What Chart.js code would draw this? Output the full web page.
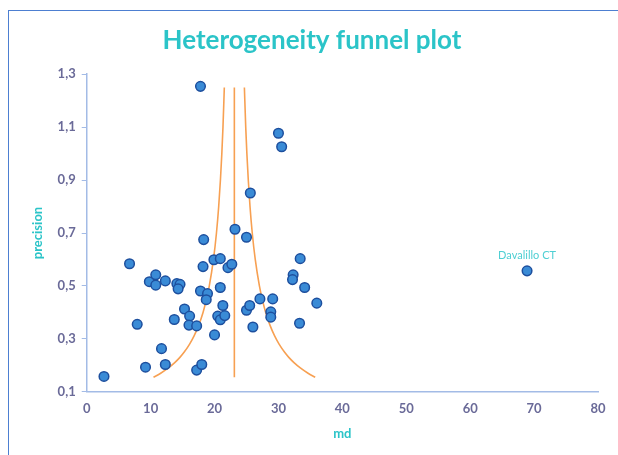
<!DOCTYPE html>
<html>
<head>
<meta charset="utf-8">
<script src="https://cdn.jsdelivr.net/npm/chart.js@4.4.1/dist/chart.umd.min.js"></script>
<style>
  html, body { margin: 0; padding: 0; background: #fff; overflow: hidden; }
  #wrap { position: relative; width: 618px; height: 455px; }
  #frame { position: absolute; left: 8px; top: 10px; width: 700px; height: 600px; border: 1.5px solid #4d7fd1; box-sizing: border-box; }
  canvas { position: absolute; left: 0; top: 0; }
</style>
</head>
<body>
<div id="wrap">
  <div id="frame"></div>
  <canvas id="c" width="618" height="455"></canvas>
</div>
<script>
// Study effect sizes (md) and precision values
const studyMd = [2.7, 6.7, 9.2, 7.9, 9.8, 10.8, 10.8, 12.3, 11.7, 12.3, 14.1, 14.6, 14.3, 13.7, 15.3, 16.1, 16.0, 17.2, 17.2, 18.0,
  18.3, 18.2, 17.8, 18.9, 18.7, 19.9, 20.9, 20.9, 21.3, 20.5, 20.9, 21.6, 20.0, 22.1, 22.7, 23.2, 25.0, 25.0, 25.5, 26.0,
  27.1, 29.1, 28.8, 28.8, 32.3, 32.2, 33.4, 34.1, 36.0, 33.3, 17.8, 30.0, 30.5, 25.6, 68.9];
const studyPrecision = [0.158, 0.584, 0.193, 0.355, 0.516, 0.542, 0.503, 0.519, 0.263, 0.203, 0.509, 0.506, 0.489, 0.373, 0.413, 0.386, 0.352, 0.349, 0.182, 0.203,
  0.675, 0.573, 0.481, 0.471, 0.448, 0.599, 0.603, 0.494, 0.426, 0.386, 0.372, 0.388, 0.315, 0.569, 0.582, 0.714, 0.684, 0.408, 0.426, 0.345,
  0.451, 0.451, 0.402, 0.382, 0.542, 0.524, 0.603, 0.494, 0.435, 0.359, 1.254, 1.077, 1.026, 0.851, 0.557];
const labelledStudy = "Davalillo CT";
const labelledIndex = 54;

// Funnel limits
const funnelPrecision = [0.155, 0.17, 0.19, 0.21, 0.23, 0.25, 0.28, 0.31, 0.35, 0.40, 0.45, 0.50, 0.60, 0.70, 0.80, 0.90, 1.00, 1.10, 1.25];
const funnelLower = [10.45, 11.57, 12.78, 13.77, 14.58, 15.26, 16.10, 16.78, 17.50, 18.20, 18.74, 19.18, 19.83, 20.30, 20.65, 20.92, 21.14, 21.32, 21.53];
const funnelUpper = [35.75, 34.63, 33.42, 32.43, 31.62, 30.94, 30.10, 29.42, 28.70, 28.00, 27.46, 27.02, 26.37, 25.90, 25.55, 25.28, 25.06, 24.88, 24.67];
const pooledMd = 23.1;
const pooledPrecision = [0.155, 1.25];

const xTicks = [0, 10, 20, 30, 40, 50, 60, 70, 80];
const yTicks = ["0,1", "0,3", "0,5", "0,7", "0,9", "1,1", "1,3"];

const pts = studyMd.map((x, i) => ({ x: x, y: studyPrecision[i] }));
const lower = funnelPrecision.map((p, i) => ({ x: funnelLower[i], y: p }));
const upper = funnelPrecision.map((p, i) => ({ x: funnelUpper[i], y: p }));
const center = pooledPrecision.map(p => ({ x: pooledMd, y: p }));

const teal = '#2bc4c8';
const tickColor = '#6a6a98';
const axisColor = '#a3bbe6';
const orange = '#f7a052';
const FONT = 'Lato, "Open Sans", sans-serif';

const labelPlugin = {
  id: 'studyLabel',
  afterDatasetsDraw(chart) {
    const xs = chart.scales.x, ys = chart.scales.y;
    const ctx = chart.ctx;
    const px = xs.getPixelForValue(studyMd[labelledIndex]);
    const py = ys.getPixelForValue(studyPrecision[labelledIndex]);
    ctx.save();
    ctx.font = '11px ' + FONT;
    ctx.fillStyle = '#4fcfd3';
    ctx.textAlign = 'center';
    ctx.textBaseline = 'bottom';
    ctx.fillText(labelledStudy, px, py - 10);
    ctx.restore();
  }
};

new Chart(document.getElementById('c'), {
  type: 'scatter',
  data: {
    datasets: [
      { data: pts, backgroundColor: '#3a8bd6', borderColor: '#1d4f9e', borderWidth: 1.5, pointRadius: 4.8, showLine: false },
      { data: center, showLine: true, borderColor: orange, borderWidth: 1.6, pointRadius: 0, fill: false },
      { data: lower, showLine: true, borderColor: orange, borderWidth: 1.6, pointRadius: 0, cubicInterpolationMode: 'monotone', fill: false },
      { data: upper, showLine: true, borderColor: orange, borderWidth: 1.6, pointRadius: 0, cubicInterpolationMode: 'monotone', fill: false }
    ]
  },
  options: {
    responsive: false,
    animation: false,
    layout: { padding: { left: 26, right: 20, top: 6, bottom: 9 } },
    plugins: {
      legend: { display: false },
      tooltip: { enabled: false },
      title: {
        display: true,
        text: 'Heterogeneity funnel plot',
        color: teal,
        font: { family: FONT, size: 26, weight: 'bold' },
        padding: { top: 19, bottom: 18 }
      }
    },
    scales: {
      x: {
        type: 'linear', min: 0, max: 80,
        afterBuildTicks(s) { s.ticks = xTicks.map(v => ({ value: v })); },
        ticks: { color: tickColor, font: { family: FONT, size: 13, weight: 'bold' }, padding: 4, callback: v => String(v) },
        grid: { display: false, drawTicks: true, tickLength: 5, color: axisColor },
        border: { display: true, color: axisColor, width: 1.5 },
        title: { display: true, text: 'md', color: teal, font: { family: FONT, size: 13, weight: 'bold' }, padding: { top: 6 } }
      },
      y: {
        type: 'linear', min: 0.1, max: 1.3,
        afterBuildTicks(s) { s.ticks = yTicks.map(t => ({ value: parseFloat(t.replace(',', '.')) })); },
        ticks: { color: tickColor, font: { family: FONT, size: 13, weight: 'bold' }, padding: 6,
          callback: (v) => yTicks.find(t => Math.abs(parseFloat(t.replace(',', '.')) - v) < 1e-6) || '' },
        grid: { display: true, drawOnChartArea: false, drawTicks: true, tickLength: 5, color: axisColor },
        border: { display: true, color: axisColor, width: 1.5 },
        title: { display: true, text: 'precision', color: teal, font: { family: FONT, size: 13, weight: 'bold' }, padding: { bottom: 6 } }
      }
    }
  },
  plugins: [labelPlugin]
});
</script>
</body>
</html>
